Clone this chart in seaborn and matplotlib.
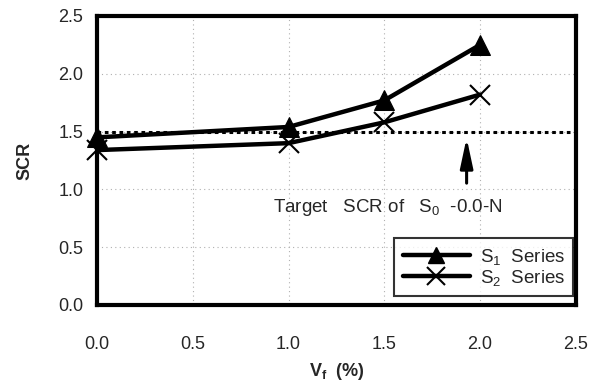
import matplotlib
matplotlib.use("Agg")
import matplotlib.pyplot as plt
import seaborn as sns
import pandas as pd
from matplotlib.lines import Line2D

vf = [0.0, 1.0, 1.5, 2.0]
s1_scr = [1.45, 1.54, 1.77, 2.25]
s2_scr = [1.34, 1.40, 1.58, 1.82]
series_names = ["S$_1$  Series", "S$_2$  Series"]
target_scr = 1.5
x_ticks = [0.0, 0.5, 1.0, 1.5, 2.0, 2.5]
y_ticks = [0.0, 0.5, 1.0, 1.5, 2.0, 2.5]

df1 = pd.DataFrame({"Vf": vf, "SCR": s1_scr})
df2 = pd.DataFrame({"Vf": vf, "SCR": s2_scr})

sns.set_theme(style="white")
plt.rcParams["font.family"] = ["Liberation Sans", "DejaVu Sans"]
plt.rcParams["mathtext.fontset"] = "custom"
plt.rcParams["mathtext.rm"] = "Liberation Sans"
plt.rcParams["mathtext.it"] = "Liberation Sans"
plt.rcParams["mathtext.bf"] = "Liberation Sans:bold"

fig = plt.figure(figsize=(5.96, 3.90), dpi=100)
ax = fig.add_axes([0.163, 0.218, 0.803, 0.741])

# grid
for xv in x_ticks[1:-1]:
    ax.axvline(xv, color="#b0b0b0", lw=0.8, ls=(0, (1, 3)), zorder=0)
for yv in y_ticks[1:-1]:
    ax.axhline(yv, color="#b0b0b0", lw=0.8, ls=(0, (1, 3)), zorder=0)

# target line
ax.plot([0.0, 2.5], [target_scr, target_scr], color="black", lw=2.2,
        ls=(0, (1.2, 1.2)), zorder=1)

sns.lineplot(data=df1, x="Vf", y="SCR", color="black", marker="^",
             linewidth=3.2, markersize=14, markeredgecolor="black",
             ax=ax, zorder=3, clip_on=False)
sns.lineplot(data=df2, x="Vf", y="SCR", color="black", marker="x",
             linewidth=3.2, markersize=14, markeredgewidth=1.5,
             markeredgecolor="black", markerfacecolor="black",
             ax=ax, zorder=3, clip_on=False)

# arrow
ax.annotate("", xy=(1.93, 1.47), xytext=(1.93, 1.03),
            arrowprops=dict(arrowstyle="-|>,head_width=0.32,head_length=1.5",
                            color="black", lw=2.2))
ax.text(0.92, 0.84, "Target   SCR of   S$_0$  -0.0-N", fontsize=13.5, va="center", ha="left")

# legend
handles = [
    Line2D([], [], color="black", lw=3.2, marker="^", markersize=12),
    Line2D([], [], color="black", lw=3.2, marker="x", markersize=13, markeredgewidth=1.5),
]
leg = ax.legend(handles, series_names, loc="lower right", bbox_to_anchor=(0.995, 0.03),
                frameon=True, fancybox=False, edgecolor="black", fontsize=13.5,
                handlelength=3.6, borderpad=0.45, labelspacing=0.05, handletextpad=0.5,
                borderaxespad=0.0)
leg.get_frame().set_linewidth(1.5)

ax.set_xlim(0, 2.5)
ax.set_ylim(0, 2.5)
ax.set_xticks(x_ticks)
ax.set_yticks(y_ticks)
ax.set_xticklabels([f"{v:.1f}" for v in x_ticks], fontsize=13)
ax.set_yticklabels([f"{v:.1f}" for v in y_ticks], fontsize=13)
ax.tick_params(direction="in", length=5, width=1.2, color="black", pad=10)
ax.tick_params(axis="x", pad=22)
for s in ax.spines.values():
    s.set_color("black")
    s.set_linewidth(3)
ax.set_xlabel("V$_\\mathbf{f}$  (%)", fontsize=13, fontweight="bold", labelpad=6)
ax.set_ylabel("SCR", fontsize=13, fontweight="bold", labelpad=18)
ax.grid(False)

fig.savefig("out.png", dpi=100)
